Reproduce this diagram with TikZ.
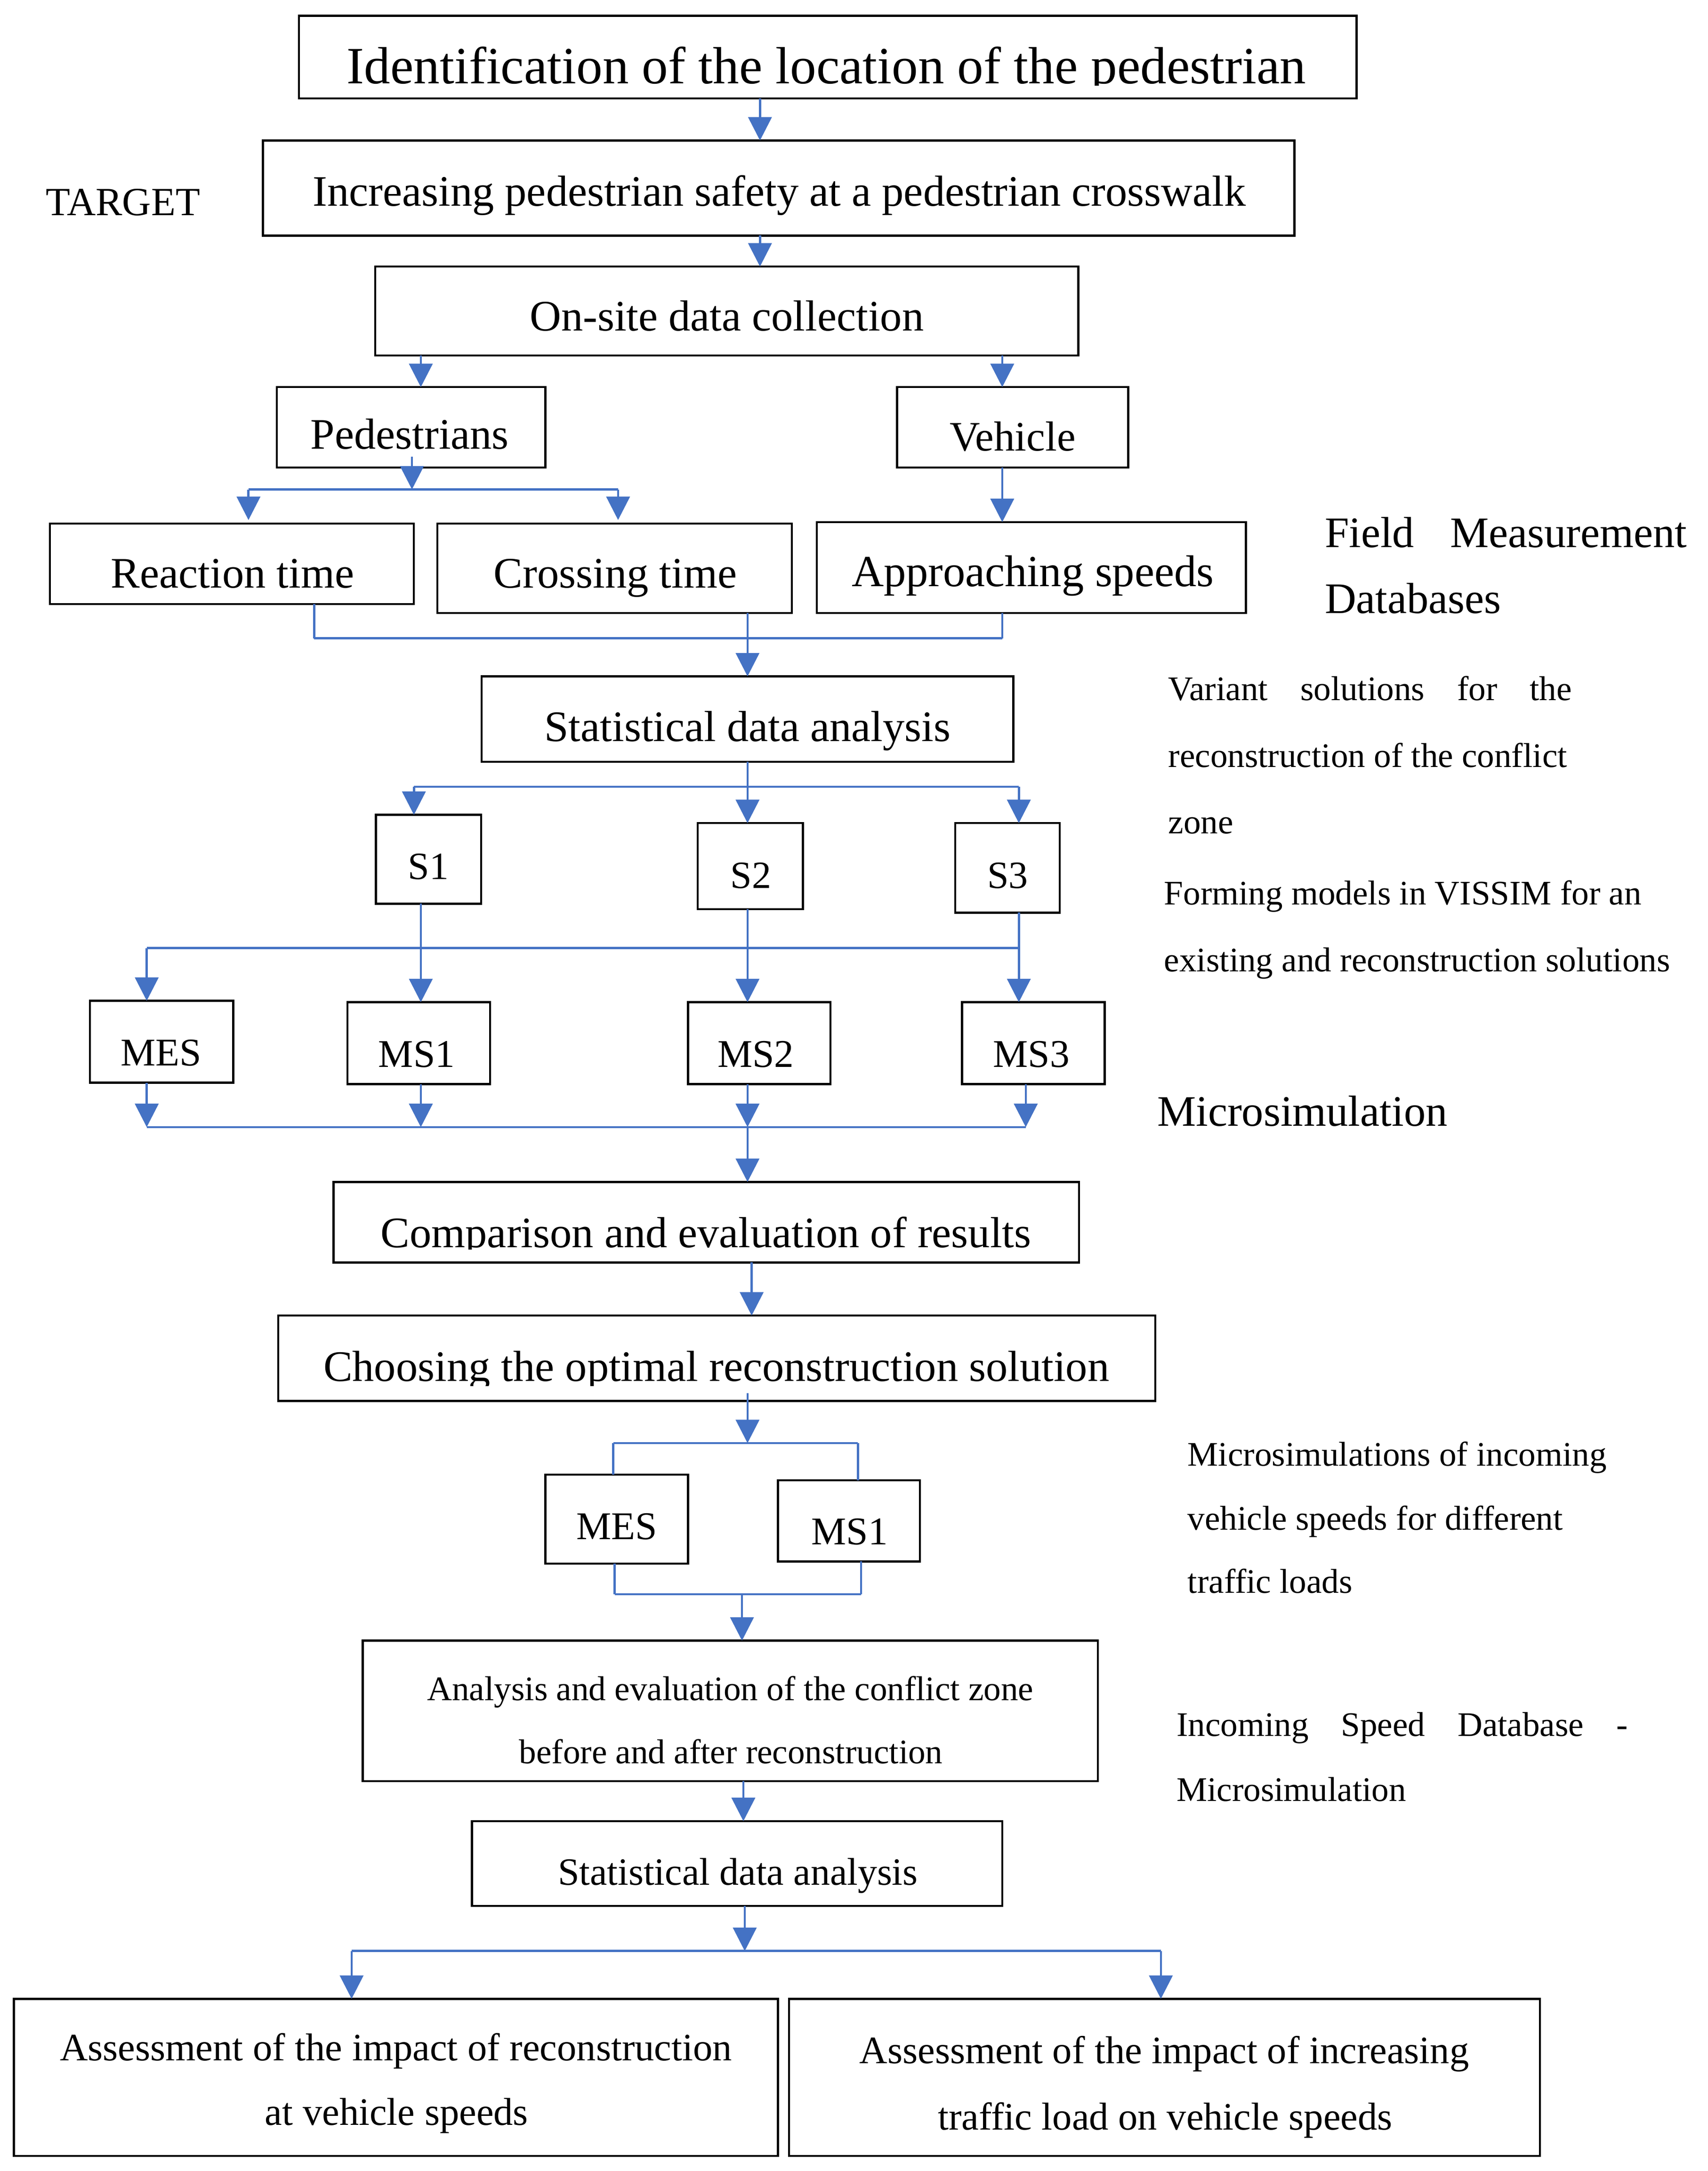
\documentclass[tikz,border=0pt]{standalone}
\usepackage{fontspec}
\setmainfont{Liberation Serif}
\usetikzlibrary{arrows.meta}
\definecolor{lnblue}{HTML}{4472C4}
\newcommand\fbx[5]{\node[bx, minimum width={1.005*(#4-#2)}, minimum height={#5-#3}] (#1) at ({(#2+#4)/2},{(#3+#5)/2}) {};}
\tikzset{
  bx/.style={draw=black, line width=1.5pt, inner sep=0pt, outer sep=0pt, rectangle},
  conn/.style={draw=lnblue, line width=1.6pt},
  arr/.style={conn, -{Triangle[length=17pt,width=17pt]}},
  bar/.style={draw=lnblue, line width=1.6pt},
  sz/.style={font=\fontsize{#1}{#1}\selectfont},
  lbl/.style={inner sep=0pt, outer sep=0pt, anchor=base, sz=31.6},
  lblL/.style={lbl, anchor=base west},
}
\begin{document}
\begin{tikzpicture}[x=1.005pt,y=-1pt]
\useasboundingbox (0,0) rectangle (1233.83,1576);
% boxes
\fbx{b1}{216}{11.5}{980}{71.5}
\fbx{b2}{190}{102}{935}{171}
\fbx{b3}{271}{193.5}{779}{258}
\fbx{bped}{200}{281}{394}{339.5}
\fbx{bveh}{648}{281}{815}{339.5}
\fbx{brea}{36}{380}{299}{438.5}
\fbx{bcro}{316}{380}{572}{445}
\fbx{bapp}{590}{379}{900}{445}
\fbx{bstat}{348}{491}{732}{553}
\fbx{bs1}{271.5}{591.5}{347.5}{656}
\fbx{bs2}{504}{597.5}{580}{660}
\fbx{bs3}{690}{597.5}{765.5}{662.5}
\fbx{bmes}{65}{726.5}{168.5}{786}
\fbx{bms1}{251}{727.5}{354}{787}
\fbx{bms2}{497}{727.5}{600}{787}
\fbx{bms3}{695}{727.5}{798}{787}
\fbx{bcmp}{241}{858}{779.5}{916.5}
\fbx{bcho}{201}{955}{834.5}{1017}
\fbx{bmesb}{394}{1070.5}{497}{1135}
\fbx{bmsb}{562}{1074.5}{664.5}{1133.5}
\fbx{bana}{262}{1191}{793}{1293}
\fbx{bstatb}{341}{1322}{724}{1383.5}
\fbx{bbl}{10}{1451}{562}{1565}
\fbx{bbr}{570}{1451}{1112.5}{1565}
% texts
\begin{scope}
\clip (216,11.5) rectangle (980,62);
\node[lbl, sz=38] (t1) at (597,60.6) {Identification of the location of the pedestrian};
\end{scope}
\node[lblL, sz=29] (ttar) at (33,156.5) {TARGET};
\node[lbl] (t2) at (563,149.5) {Increasing pedestrian safety at a pedestrian crosswalk};
\node[lbl] (t3) at (525,240) {On-site data collection};
\node[lbl] (tped) at (296,325.8) {Pedestrians};
\node[lbl, sz=30.5] (tveh) at (731.5,327.4) {Vehicle};
\node[lbl] (trea) at (168,426.8) {Reaction time};
\node[lbl] (tcro) at (444.5,426.8) {Crossing time};
\node[lbl, sz=32.3] (tapp) at (746,425.7) {Approaching speeds};
\node[lblL] (tfld) at (957,397.4) {\makebox[263pt][s]{Field Measurement}};
\node[lblL] (tdb) at (957,445.3) {Databases};
\node[lbl] (tstat) at (540,538) {Statistical data analysis};
\node[lblL, sz=25] (tvar1) at (844,508.5) {\makebox[293pt][s]{Variant solutions for the}};
\node[lblL, sz=25] (tvar2) at (844,557.1) {reconstruction of the conflict};
\node[lblL, sz=25] (tvar3) at (844,605.1) {zone};
\node[lblL, sz=25] (tfor1) at (841,656.7) {Forming models in VISSIM for an};
\node[lblL, sz=25] (tfor2) at (841,705.3) {existing and reconstruction solutions};
\node[lbl, sz=28] (ts1) at (309.5,638.2) {S1};
\node[lbl, sz=28] (ts2) at (542.5,644.8) {S2};
\node[lbl, sz=28] (ts3) at (728,644.8) {S3};
\node[lbl, sz=28.5] (tmes) at (116.5,773.5) {MES};
\node[lbl, sz=28.5] (tms1) at (301,774.6) {MS1};
\node[lbl, sz=28.5] (tms2) at (546,774.6) {MS2};
\node[lbl, sz=28.5] (tms3) at (745,774.6) {MS3};
\node[lblL] (tmic) at (836,817.5) {Microsimulation};
\begin{scope}
\clip (241,858) rectangle (779.5,907);
\node[lbl] (tcmp) at (510,905.4) {Comparison and evaluation of results};
\end{scope}
\begin{scope}
\clip (201,955) rectangle (834.5,1006);
\node[lbl] (tcho) at (517.5,1002.8) {Choosing the optimal reconstruction solution};
\end{scope}
\node[lbl, sz=28.5] (tmesb) at (445.7,1117.4) {MES};
\node[lbl, sz=28.5] (tmsb) at (613.8,1121.2) {MS1};
\node[lblL, sz=25] (tmc1) at (858,1064) {Microsimulations of incoming};
\node[lblL, sz=25] (tmc2) at (858,1110.7) {vehicle speeds for different};
\node[lblL, sz=25] (tmc3) at (858,1156.4) {traffic loads};
\node[lbl, sz=25] (tana1) at (527.6,1234.2) {Analysis and evaluation of the conflict zone};
\node[lbl, sz=25] (tana2) at (528,1280.2) {before and after reconstruction};
\node[lblL, sz=25] (tinc1) at (850,1260.2) {\makebox[327.5pt][s]{Incoming Speed Database -}};
\node[lblL, sz=25] (tinc2) at (850,1307.5) {Microsimulation};
\node[lbl, sz=28] (tstatb) at (533,1368.5) {Statistical data analysis};
\node[lbl, sz=28.2] (tbl1) at (286,1495.8) {Assessment of the impact of reconstruction};
\node[lbl, sz=28.2] (tbl2) at (286.5,1542.6) {at vehicle speeds};
\node[lbl, sz=28.2] (tbr1) at (841,1498) {Assessment of the impact of increasing};
\node[lbl, sz=28.2] (tbr2) at (841.7,1546.2) {traffic load on vehicle speeds};
% connectors
\draw[arr] (b1.south -| 549,0) -- (b2.north -| 549,0);
\draw[arr] (b2.south -| 549,0) -- (b3.north -| 549,0);
\draw[arr] (b3.south -| 304,0) -- (bped.north -| 304,0);
\draw[arr] (b3.south -| 724,0) -- (bveh.north -| 724,0);
\coordinate (pL) at (179.5,355.3);
\coordinate (pR) at (446.5,355.3);
\coordinate (pJ) at (297.6,355.3);
\draw[bar] (pL) -- (pR);
\draw[arr] (bped.south -| pJ) ++(0,-8) -- (pJ);
\draw[arr, shorten >=2.5pt] (pL) -- (brea.north -| pL);
\draw[arr, shorten >=2.5pt] (pR) -- (bcro.north -| pR);
\draw[arr] (bveh.south -| 724,0) -- (bapp.north -| 724,0);
\coordinate (mL) at (227,463.4);
\coordinate (mR) at (724,463.4);
\coordinate (mJ) at (540,463.4);
\draw[conn] (brea.south -| mL) -- (mL);
\draw[conn] (bapp.south -| mR) -- (mR);
\draw[bar] (mL) -- (mR);
\draw[arr] (bcro.south -| mJ) -- (bstat.north -| mJ);
\coordinate (sL) at (299,571.1);
\coordinate (sR) at (736,571.1);
\draw[bar] (sL) -- (sR);
\draw[arr] (bstat.south -| 540,0) -- (bs2.north -| 540,0);
\draw[arr] (sL) -- (bs1.north -| sL);
\draw[arr] (sR) -- (bs3.north -| sR);
\coordinate (vL) at (106,688.3);
\coordinate (vR) at (736,688.3);
\draw[bar] (vL) -- (vR);
\draw[arr] (bs1.south -| 304,0) -- (bms1.north -| 304,0);
\draw[arr] (bs2.south -| 540,0) -- (bms2.north -| 540,0);
\draw[arr] (bs3.south -| 736,0) -- (bms3.north -| 736,0);
\draw[arr] (vL) -- (bmes.north -| vL);
\coordinate (wL) at (106,818.2);
\coordinate (w1) at (304,818.2);
\coordinate (w2) at (540,818.2);
\coordinate (wR) at (741,818.2);
\draw[bar] (wL) -- (wR);
\draw[arr] (bmes.south -| wL) -- (wL);
\draw[arr] (bms1.south -| w1) -- (w1);
\draw[arr] (bms2.south -| w2) -- (w2);
\draw[arr] (bms3.south -| wR) -- (wR);
\draw[arr] (w2) -- (bcmp.north -| w2);
\draw[arr] (bcmp.south -| 543,0) -- (bcho.north -| 543,0);
\coordinate (cL) at (443,1047.6);
\coordinate (cR) at (619.7,1047.6);
\coordinate (cJ) at (540,1047.6);
\draw[arr] (bcho.south -| cJ) ++(0,-5.5) -- (cJ);
\draw[bar] (cL) -- (cR);
\draw[conn] (cL) -- (bmesb.north -| cL);
\draw[conn] (cR) -- (bmsb.north -| cR);
\coordinate (dL) at (444,1157.3);
\coordinate (dR) at (622,1157.3);
\coordinate (dJ) at (536,1157.3);
\draw[conn] (bmesb.south -| dL) -- (dL);
\draw[conn] (bmsb.south -| dR) -- (dR);
\draw[bar] (dL) -- (dR);
\draw[arr] (dJ) -- (bana.north -| dJ);
\draw[arr] (bana.south -| 537,0) -- (bstatb.north -| 537,0);
\coordinate (eL) at (254,1416.3);
\coordinate (eR) at (838.6,1416.3);
\coordinate (eJ) at (538,1416.3);
\draw[arr] (bstatb.south -| eJ) -- (eJ);
\draw[bar] (eL) -- (eR);
\draw[arr] (eL) -- (bbl.north -| eL);
\draw[arr] (eR) -- (bbr.north -| eR);
\end{tikzpicture}
\end{document}
